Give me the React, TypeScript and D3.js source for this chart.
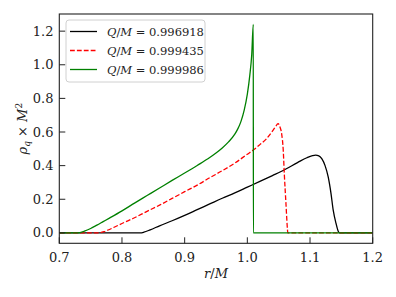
import React, { useEffect, useRef } from 'react';
import * as d3 from 'd3';

// radius r/M for each curve, and the charge density rho_q * M^2
const rBlack = [0.70, 0.80, 0.829, 0.835, 0.845, 0.86, 0.88, 0.90, 0.92, 0.94, 0.96, 0.98, 1.00, 1.02, 1.04, 1.06, 1.08, 1.095, 1.104, 1.109, 1.114, 1.119, 1.124, 1.129, 1.1335, 1.137, 1.1415, 1.145, 1.147, 1.20];
const rhoBlack = [0, 0, 0, 0.004, 0.018, 0.042, 0.072, 0.104, 0.138, 0.172, 0.206, 0.238, 0.272, 0.306, 0.341, 0.377, 0.418, 0.447, 0.459, 0.462, 0.458, 0.44, 0.40, 0.333, 0.234, 0.135, 0.056, 0.01, 0, 0];

const rRed = [0.70, 0.76, 0.765, 0.772, 0.78, 0.79, 0.80, 0.82, 0.84, 0.86, 0.88, 0.90, 0.92, 0.94, 0.96, 0.98, 1.00, 1.01, 1.02, 1.03, 1.04, 1.045, 1.049, 1.052, 1.0547, 1.0573, 1.059, 1.0616, 1.064, 1.0645, 1.20];
const rhoRed = [0, 0, 0.001, 0.008, 0.02, 0.038, 0.056, 0.09, 0.128, 0.165, 0.205, 0.245, 0.284, 0.328, 0.37, 0.415, 0.468, 0.494, 0.525, 0.558, 0.605, 0.632, 0.65, 0.63, 0.59, 0.49, 0.35, 0.175, 0.02, 0, 0];

const rGreen = [0.70, 0.728, 0.733, 0.74, 0.75, 0.76, 0.77, 0.78, 0.80, 0.82, 0.84, 0.86, 0.88, 0.90, 0.92, 0.94, 0.95, 0.96, 0.97, 0.98, 0.985, 0.99, 0.995, 1.00, 1.004, 1.007, 1.0095, 1.0096, 1.20];
const rhoGreen = [0, 0, 0.002, 0.01, 0.026, 0.046, 0.067, 0.088, 0.131, 0.177, 0.222, 0.267, 0.312, 0.356, 0.401, 0.448, 0.475, 0.505, 0.541, 0.587, 0.62, 0.665, 0.73, 0.825, 0.94, 1.06, 1.24, 0, 0];

const seriesLabels = ['0.996918', '0.999435', '0.999986'];
const xTicks = [0.7, 0.8, 0.9, 1.0, 1.1, 1.2];
const yTicks = [0.0, 0.2, 0.4, 0.6, 0.8, 1.0, 1.2];

const W = 396;
const H = 297;
const FONT = "'DejaVu Serif', serif";

const App: React.FC = () => {
  const ref = useRef<SVGSVGElement>(null);

  useEffect(() => {
    const svg = d3.select(ref.current);
    svg.selectAll('*').remove();

    const x = d3.scaleLinear().domain([0.7, 1.2]).range([59.3, 372.7]);
    const y = d3.scaleLinear().domain([-0.062, 1.302]).range([243.3, 14]);

    svg.append('rect').attr('width', W).attr('height', H).attr('fill', 'white');

    svg.append('defs').append('clipPath').attr('id', 'plotclip')
      .append('rect')
      .attr('x', x(0.7)).attr('y', y(1.302))
      .attr('width', x(1.2) - x(0.7)).attr('height', y(-0.062) - y(1.302));

    const series = [
      { r: rBlack, v: rhoBlack, color: '#000000', dash: null },
      { r: rRed, v: rhoRed, color: '#ff0000', dash: '4.8,2.1' },
      { r: rGreen, v: rhoGreen, color: '#008000', dash: null },
    ];

    const line = d3.line<[number, number]>()
      .x(d => x(d[0]))
      .y(d => y(d[1]))
      .curve(d3.curveMonotoneX);

    const g = svg.append('g').attr('clip-path', 'url(#plotclip)');
    series.forEach(s => {
      const pts: [number, number][] = s.r.map((r, i) => [r, s.v[i]]);
      const p = g.append('path')
        .attr('d', line(pts))
        .attr('fill', 'none')
        .attr('stroke', s.color)
        .attr('stroke-width', 1.3)
        .attr('stroke-linejoin', 'round');
      if (s.dash) p.attr('stroke-dasharray', s.dash);
    });

    // frame
    svg.append('rect')
      .attr('x', x(0.7)).attr('y', y(1.302))
      .attr('width', x(1.2) - x(0.7)).attr('height', y(-0.062) - y(1.302))
      .attr('fill', 'none').attr('stroke', '#222').attr('stroke-width', 1.1);

    const txt = (sel: any, size: number) =>
      sel.style('font-family', FONT).style('font-size', size + 'px').attr('fill', '#222');

    // x ticks (pointing in)
    const xb = y(-0.062);
    xTicks.forEach(t => {
      svg.append('line')
        .attr('x1', x(t)).attr('x2', x(t))
        .attr('y1', xb).attr('y2', xb - 6)
        .attr('stroke', '#222').attr('stroke-width', 1);
      txt(svg.append('text')
        .attr('x', x(t)).attr('y', 261.5)
        .attr('text-anchor', 'middle'), 13)
        .text(t.toFixed(1));
    });

    // y ticks
    const yl = x(0.7);
    yTicks.forEach(t => {
      svg.append('line')
        .attr('x1', yl).attr('x2', yl + 6)
        .attr('y1', y(t)).attr('y2', y(t))
        .attr('stroke', '#222').attr('stroke-width', 1);
      txt(svg.append('text')
        .attr('x', 53.5).attr('y', y(t) + 4.6)
        .attr('text-anchor', 'end'), 13)
        .text(t.toFixed(1));
    });

    // axis labels
    const xl = txt(svg.append('text')
      .attr('x', (x(0.7) + x(1.2)) / 2).attr('y', 277.5)
      .attr('text-anchor', 'middle'), 13);
    xl.append('tspan').attr('font-style', 'italic').text('r');
    xl.append('tspan').text('/');
    xl.append('tspan').attr('font-style', 'italic').text('M');

    const ylab = txt(svg.append('text')
      .attr('transform', `translate(27, ${(y(1.302) + y(-0.062)) / 2}) rotate(-90)`)
      .attr('text-anchor', 'middle'), 13);
    ylab.append('tspan').attr('font-style', 'italic').text('ρ');
    ylab.append('tspan').attr('font-style', 'italic').style('font-size', '9px').attr('dy', 3).text('q');
    ylab.append('tspan').attr('dy', -3).text(' × ');
    ylab.append('tspan').attr('font-style', 'italic').text('M');
    ylab.append('tspan').style('font-size', '9px').attr('dy', -5).text('2');

    // legend
    svg.append('rect')
      .attr('x', 66).attr('y', 20).attr('width', 139).attr('height', 62)
      .attr('rx', 3).attr('fill', 'white').attr('fill-opacity', 0.8)
      .attr('stroke', '#d0d0d0').attr('stroke-width', 1);
    series.forEach((s, i) => {
      const ly = 31.5 + i * 19;
      const l = svg.append('line')
        .attr('x1', 70).attr('x2', 97).attr('y1', ly).attr('y2', ly)
        .attr('stroke', s.color).attr('stroke-width', 1.3);
      if (s.dash) l.attr('stroke-dasharray', s.dash);
      const t = txt(svg.append('text')
        .attr('x', 107).attr('y', ly + 4.5), 11.5);
      t.append('tspan').attr('font-style', 'italic').text('Q');
      t.append('tspan').text('/');
      t.append('tspan').attr('font-style', 'italic').text('M');
      t.append('tspan').text(' = ' + seriesLabels[i]);
    });
  }, []);

  return (
    <svg ref={ref} width={W} height={H}
      style={{ position: 'absolute', left: 0, top: 0, display: 'block' }} />
  );
};

export default App;
